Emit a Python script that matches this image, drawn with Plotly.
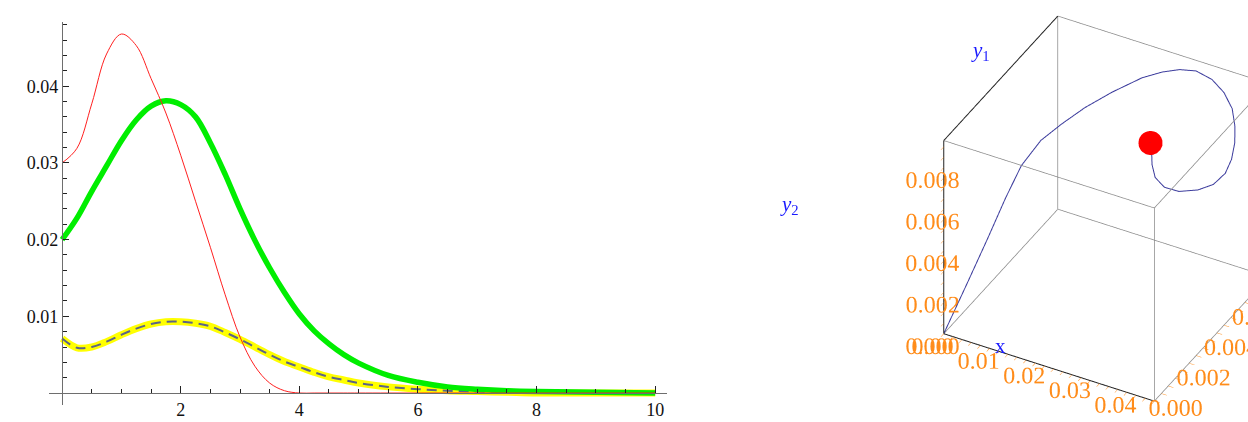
import plotly.graph_objects as go

# ---------------- left panel: three time courses ----------------
t_vals = [0, 0.25, 0.5, 0.75, 1.0, 1.25, 1.5, 1.75, 2.0, 2.25, 2.5, 2.75, 3.0, 3.25, 3.5, 3.75,
          4.0, 4.25, 4.5, 4.75, 5.0, 5.5, 6.0, 6.5, 7.0, 7.5, 8.0, 9.0, 10.0]
red_vals = [0.0300, 0.0319, 0.0377, 0.0442, 0.0468, 0.0453, 0.0410, 0.0365, 0.0310, 0.0250,
            0.0190, 0.0128, 0.0073, 0.0035, 0.0013, 0.0003, 0.0, 0.0, 0.0, 0.0, 0.0,
            0.0, 0.0, 0.0, 0.0, 0.0, 0.0, 0.0, 0.0]
green_vals = [0.0200, 0.0228, 0.0263, 0.0296, 0.0329, 0.0356, 0.0374, 0.0381, 0.0376, 0.0360,
              0.0326, 0.0285, 0.0240, 0.0199, 0.0163, 0.0131, 0.0103, 0.0081, 0.0064, 0.0050,
              0.0039, 0.0023, 0.0014, 0.0008, 0.0005, 0.0003, 0.0002, 0.0001, 0.0000]
yellow_vals = [0.0071, 0.0059, 0.0060, 0.0067, 0.0076, 0.0084, 0.0090, 0.0093, 0.0093, 0.0091,
               0.0087, 0.0079, 0.0070, 0.0060, 0.0050, 0.0041, 0.0034, 0.0027, 0.0021, 0.0017,
               0.0013, 0.0008, 0.0005, 0.0003, 0.0002, 0.0001, 0.0000, 0.0000, 0.0000]

x_ticks = [2, 4, 6, 8, 10]
x_ticktext = ["2", "4", "6", "8", "10"]
x_minor = [0.5, 1.0, 1.5, 2.5, 3.0, 3.5, 4.5, 5.0, 5.5, 6.5, 7.0, 7.5, 8.5, 9.0, 9.5]
y_ticks = [0.01, 0.02, 0.03, 0.04]
y_ticktext = ["0.01", "0.02", "0.03", "0.04"]
y_minor = [0.002, 0.004, 0.006, 0.008, 0.012, 0.014, 0.016, 0.018, 0.022, 0.024, 0.026,
           0.028, 0.032, 0.034, 0.036, 0.038, 0.042, 0.044, 0.046, 0.048]

x_range = [-0.22, 10.2]
y_range = [-0.00156, 0.04837]
x_domain = [0.0393, 0.5345]
y_domain = [0.0403, 0.9479]

# ---------------- right panel: trajectory in (x, y1, y2) ----------------
traj_x = [0.0, 0.00143, 0.0035, 0.00497, 0.00621, 0.0086, 0.01164, 0.01486, 0.01854,
          0.02259, 0.02558, 0.02824, 0.03123, 0.03496, 0.03841, 0.0414, 0.0437, 0.04503,
          0.04582, 0.04545, 0.04365, 0.04099, 0.03772, 0.03496, 0.03275, 0.03142, 0.0311,
          0.03133, 0.0310]
traj_y1 = [0.0, 0.00125, 0.00198, 0.00282, 0.00354, 0.00415, 0.00462, 0.00526, 0.00598,
           0.00682, 0.0073, 0.00766, 0.00786, 0.00778, 0.0075, 0.00711, 0.00655, 0.0061,
           0.00561, 0.00528, 0.00502, 0.00478, 0.00449, 0.00437, 0.00442, 0.00463, 0.00472,
           0.00473, 0.00464]
traj_y2 = [0.0, 0.00167, 0.00335, 0.00484, 0.00595, 0.00688, 0.00753, 0.00809, 0.00856,
           0.00893, 0.00907, 0.00911, 0.00911, 0.00902, 0.00884, 0.00856, 0.00828, 0.00791,
           0.00753, 0.00707, 0.0066, 0.00632, 0.00623, 0.00632, 0.0066, 0.00698, 0.00735,
           0.00772, 0.0080]
end_point = [0.0310, 0.00464, 0.0080]

x3_range = [0.0, 0.046]
y1_range = [0.0, 0.0082]
y2_range = [0.0, 0.0093]
x3_ticks = [0.0, 0.01, 0.02, 0.03, 0.04]
x3_ticktext = ["0.00", "0.01", "0.02", "0.03", "0.04"]
y3_ticks = [0.0, 0.002, 0.004, 0.006, 0.008]
y3_ticktext = ["0.000", "0.002", "0.004", "0.006", "0.008"]

SERIF = "Liberation Serif"
ORANGE = "#ff8c1a"
BLUE = "#1a1aff"
BOX = 1.135  # edge length of the cubic 3D frame in scene units


def with_minor(major_vals, major_text, step, upper):
    """Tick positions every `step`, labelled only at the major values."""
    vals, texts = [], []
    n = int(round(upper / step))
    for i in range(n + 1):
        v = round(i * step, 6)
        if v > upper + 1e-12:
            break
        lab = ""
        for m, s in zip(major_vals, major_text):
            if abs(m - v) < 1e-9:
                lab = s
        vals.append(v)
        texts.append(lab)
    return vals, texts


fig = go.Figure()

# time courses (red drawn last so it sits on top)
fig.add_trace(go.Scatter(x=t_vals, y=yellow_vals, mode="lines",
                         line=dict(color="#ffff00", width=7, shape="spline"),
                         xaxis="x", yaxis="y", hoverinfo="skip"))
fig.add_trace(go.Scatter(x=t_vals, y=yellow_vals, mode="lines",
                         line=dict(color="#5c6488", width=2, shape="spline", dash="10px,6px"),
                         xaxis="x", yaxis="y", hoverinfo="skip"))
fig.add_trace(go.Scatter(x=t_vals, y=green_vals, mode="lines",
                         line=dict(color="#00ee00", width=5.5, shape="spline"),
                         xaxis="x", yaxis="y", hoverinfo="skip"))
fig.add_trace(go.Scatter(x=t_vals, y=red_vals, mode="lines",
                         line=dict(color="#ff2020", width=1, shape="spline"),
                         xaxis="x", yaxis="y", hoverinfo="skip"))

# box edges of the 3D frame, built from the axis ranges
xs, ys, zs = x3_range, y1_range, y2_range
corners_edges = []
for j in (0, 1):
    for k in (0, 1):
        corners_edges.append(((xs[0], ys[j], zs[k]), (xs[1], ys[j], zs[k])))
        corners_edges.append(((xs[j], ys[0], zs[k]), (xs[j], ys[1], zs[k])))
        corners_edges.append(((xs[j], ys[k], zs[0]), (xs[j], ys[k], zs[1])))
axis_edges = [((xs[0], ys[0], zs[0]), (xs[1], ys[0], zs[0])),
              ((xs[0], ys[0], zs[0]), (xs[0], ys[0], zs[1])),
              ((xs[0], ys[0], zs[1]), (xs[0], ys[1], zs[1]))]


def edge_coords(edges):
    ex, ey, ez = [], [], []
    for a, b in edges:
        ex += [a[0], b[0], None]
        ey += [a[1], b[1], None]
        ez += [a[2], b[2], None]
    return ex, ey, ez


gx, gy, gz = edge_coords([e for e in corners_edges if e not in axis_edges])
fig.add_trace(go.Scatter3d(x=gx, y=gy, z=gz, mode="lines",
                           line=dict(color="#8a8a8a", width=1.5), hoverinfo="skip", scene="scene"))
bx, by, bz = edge_coords(axis_edges)
fig.add_trace(go.Scatter3d(x=bx, y=by, z=bz, mode="lines",
                           line=dict(color="#222222", width=2), hoverinfo="skip", scene="scene"))

fig.add_trace(go.Scatter3d(x=traj_x, y=traj_y1, z=traj_y2, mode="lines",
                           line=dict(color="#3b3b9c", width=2), hoverinfo="skip", scene="scene"))
fig.add_trace(go.Scatter3d(x=[end_point[0]], y=[end_point[1]], z=[end_point[2]], mode="markers",
                           marker=dict(color="#ff0000", size=14, line=dict(width=0)),
                           hoverinfo="skip", scene="scene"))

# axis positions so that the two axes cross at the origin
pos_x_axis = y_domain[0] + (0 - y_range[0]) / (y_range[1] - y_range[0]) * (y_domain[1] - y_domain[0])
pos_y_axis = x_domain[0] + (0 - x_range[0]) / (x_range[1] - x_range[0]) * (x_domain[1] - x_domain[0])

tick_font = dict(family=SERIF, size=18, color="#111111")

xt3, xl3 = with_minor(x3_ticks, x3_ticktext, 0.002, x3_range[1])
yt3, yl3 = with_minor(y3_ticks, y3_ticktext, 0.0005, y1_range[1])
zt3, zl3 = with_minor(y3_ticks, y3_ticktext, 0.0005, y2_range[1])


def axis3d(rng, tv, tt, linecolor):
    return dict(range=rng, autorange=False, tickmode="array", tickvals=tv, ticktext=tt,
                showgrid=False, zeroline=False, showbackground=False, showspikes=False,
                showline=True, linecolor=linecolor, linewidth=1,
                ticks="outside", ticklen=6, tickwidth=1, tickcolor=ORANGE,
                tickangle=0,
                tickfont=dict(family=SERIF, size=17, color=ORANGE),
                title=dict(text=""))


axis_label_font = dict(family=SERIF, size=21, color=BLUE)
annotations = [
    dict(text="<i>y</i><sub>2</sub>", x=0.633, y=0.514, xref="paper", yref="paper",
         showarrow=False, font=axis_label_font),
    dict(text="<i>y</i><sub>1</sub>", x=0.795, y=0.915, xref="paper", yref="paper",
         showarrow=False, font=axis_label_font),
    dict(text="x", x=0.808, y=0.148, xref="paper", yref="paper",
         showarrow=False, font=axis_label_font),
]

fig.update_layout(
    width=1248, height=422,
    margin=dict(l=0, r=0, t=0, b=0),
    paper_bgcolor="white", plot_bgcolor="white",
    showlegend=False,
    annotations=annotations,
    xaxis=dict(domain=x_domain, range=x_range, anchor="free", position=pos_x_axis,
               showline=True, linecolor="#6e6e6e", linewidth=1.3, showgrid=False, zeroline=False,
               tickmode="array", tickvals=x_ticks, ticktext=x_ticktext,
               ticks="inside", ticklen=7, tickwidth=1, tickcolor="#222222",
               minor=dict(tickvals=x_minor, ticks="inside", ticklen=4, tickcolor="#222222"),
               tickfont=tick_font, automargin=False, fixedrange=True),
    yaxis=dict(domain=y_domain, range=y_range, anchor="free", position=pos_y_axis,
               showline=True, linecolor="#6e6e6e", linewidth=1.3, showgrid=False, zeroline=False,
               tickmode="array", tickvals=y_ticks, ticktext=y_ticktext,
               ticks="inside", ticklen=6, tickwidth=1, tickcolor="#222222",
               minor=dict(tickvals=y_minor, ticks="inside", ticklen=4, tickcolor="#222222"),
               tickfont=tick_font, automargin=False, fixedrange=True),
    scene=dict(
        domain=dict(x=[0.6, 1.0], y=[0.0, 1.0]),
        bgcolor="white",
        aspectmode="manual", aspectratio=dict(x=BOX, y=BOX, z=BOX),
        xaxis=axis3d(x3_range, xt3, xl3, "#222222"),
        yaxis=axis3d(y1_range, yt3, yl3, "#8a8a8a"),
        zaxis=axis3d(y2_range, zt3, zl3, "#222222"),
        camera=dict(eye=dict(x=0.323, y=-1.667, z=1.173),
                    center=dict(x=-0.445, y=-0.249, z=-0.009),
                    up=dict(x=0, y=0, z=1),
                    projection=dict(type="orthographic")),
        dragmode=False,
    ),
)

fig.write_html("out.html", config={"displayModeBar": False})
